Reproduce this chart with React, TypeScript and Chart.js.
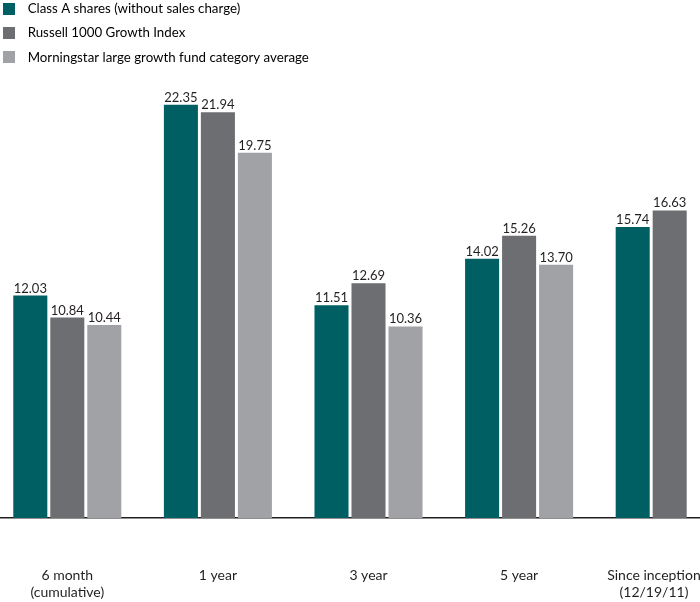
import React, { useEffect, useRef } from "react";
import { Chart, registerables } from "chart.js";

Chart.register(...registerables);

const categories: string[][] = [
  ["6 month", "(cumulative)"],
  ["1 year"],
  ["3 year"],
  ["5 year"],
  ["Since inception", "(12/19/11)"],
];
const classAShares: (number | null)[] = [12.03, 22.35, 11.51, 14.02, 15.74];
const russell1000Growth: (number | null)[] = [10.84, 21.94, 12.69, 15.26, 16.63];
const morningstarAverage: (number | null)[] = [10.44, 19.75, 10.36, 13.7, null];
const seriesNames: string[] = [
  "Class A shares (without sales charge)",
  "Russell 1000 Growth Index",
  "Morningstar large growth fund category average",
];
const seriesColors: string[] = ["#005f63", "#6d6e71", "#a1a2a5"];

const FONT = "Lato, 'Open Sans', sans-serif";
const TEXT = "#231f20";

function makeSwatch(color: string): HTMLCanvasElement {
  const c = document.createElement("canvas");
  c.width = 18;
  c.height = 12;
  const g = c.getContext("2d")!;
  g.fillStyle = color;
  g.fillRect(0, 0, 12, 12);
  return c;
}

const valueLabels = {
  id: "valueLabels",
  afterDatasetsDraw(chart: any) {
    const ctx = chart.ctx;
    ctx.save();
    ctx.font = `13px ${FONT}`;
    ctx.fillStyle = TEXT;
    ctx.textAlign = "center";
    ctx.textBaseline = "alphabetic";
    chart.data.datasets.forEach((ds: any, i: number) => {
      const meta = chart.getDatasetMeta(i);
      meta.data.forEach((el: any, j: number) => {
        const v = ds.data[j];
        if (v === null || v === undefined) return;
        ctx.fillText(Number(v).toFixed(2), el.x, el.y - 3);
      });
    });
    ctx.restore();
  },
};

export default function App() {
  const ref = useRef<HTMLCanvasElement | null>(null);

  useEffect(() => {
    if (!ref.current) return;
    const swatches = seriesColors.map(makeSwatch);
    const series = [classAShares, russell1000Growth, morningstarAverage];
    const chart = new Chart(ref.current, {
      type: "bar",
      data: {
        labels: categories,
        datasets: series.map((d, i) => ({
          label: seriesNames[i],
          data: d,
          backgroundColor: seriesColors[i],
          borderWidth: 0,
          barPercentage: 0.92,
          categoryPercentage: 0.737,
        })),
      },
      options: {
        responsive: false,
        animation: false,
        layout: { padding: 0 },
        plugins: {
          tooltip: { enabled: false },
          legend: {
            position: "chartArea",
            align: "start",
            fullSize: false,
            labels: {
              usePointStyle: true,
              pointStyleWidth: 18,
              boxHeight: 12,
              padding: 11,
              color: TEXT,
              font: { family: FONT, size: 13.3 },
              generateLabels: () =>
                seriesNames.map((name, i) => ({
                  text: name,
                  fillStyle: seriesColors[i],
                  strokeStyle: seriesColors[i],
                  lineWidth: 0,
                  pointStyle: swatches[i],
                  hidden: false,
                  datasetIndex: i,
                })),
            },
          },
        },
        scales: {
          x: {
            grid: {
              display: true,
              drawOnChartArea: false,
              drawTicks: true,
              tickLength: 48,
              color: "rgba(0,0,0,0)",
            },
            border: { display: true, color: "#231f20", width: 1.5 },
            ticks: {
              color: TEXT,
              padding: 1,
              maxRotation: 0,
              autoSkip: false,
              font: { family: FONT, size: 14, lineHeight: "17px" },
              callback: function (this: any, value: any, index: number) {
                const lbl = categories[index];
                if (index === categories.length - 1) {
                  return lbl.map((s) => s + "\u2003\u2003\u2003");
                }
                return lbl;
              },
            },
          },
          y: {
            display: false,
            min: 0,
            max: 28.5,
          },
        },
      },
      plugins: [valueLabels],
    });
    return () => chart.destroy();
  }, []);

  return (
    <div
      style={{
        position: "absolute",
        left: 0,
        top: 0,
        width: 700,
        height: 602,
        overflow: "hidden",
        background: "#fff",
      }}
    >
      <div style={{ position: "absolute", left: -8, top: -9, width: 753, height: 611 }}>
        <canvas ref={ref} width={753} height={611} style={{ width: 753, height: 611 }} />
      </div>
    </div>
  );
}
